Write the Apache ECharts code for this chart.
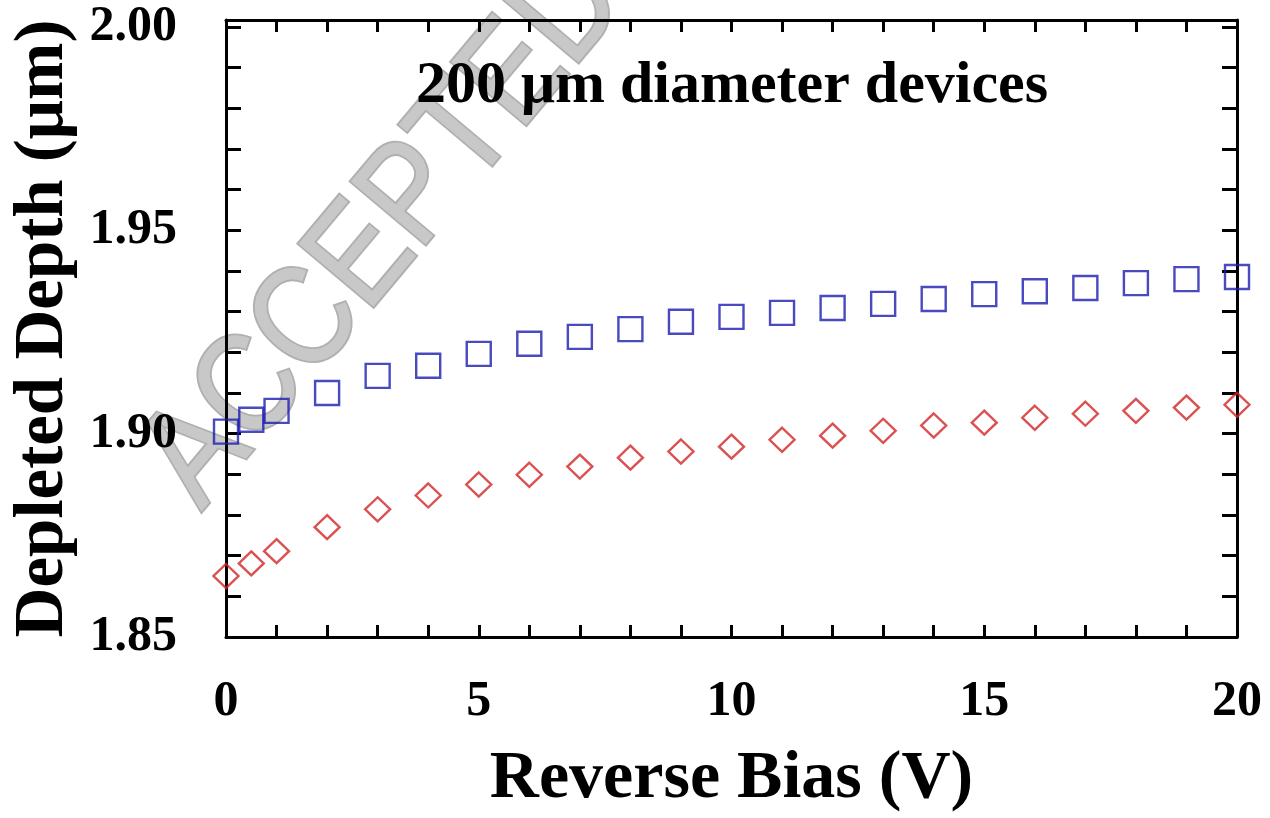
<!DOCTYPE html>
<html>
<head>
<meta charset="utf-8">
<script src="https://cdn.jsdelivr.net/npm/echarts@6/dist/echarts.min.js"></script>
<style>
  html, body { margin: 0; padding: 0; background: #fff; }
  #chart { width: 1270px; height: 818px; }
</style>
</head>
<body>
<div id="chart"></div>
<script>
// reverse bias (V)
var bias = [0, 0.5, 1, 2, 3, 4, 5, 6, 7, 8, 9, 10, 11, 12, 13, 14, 15, 16, 17, 18, 19, 20];
// depleted depth (um), blue squares
var depthBlue = [1.9005, 1.9034, 1.9056, 1.9100, 1.9142, 1.9167, 1.9196, 1.9221, 1.9238, 1.9257, 1.9275,
                 1.9287, 1.9297, 1.9309, 1.9319, 1.9331, 1.9343, 1.9350, 1.9358, 1.9370, 1.9380, 1.9385];
// depleted depth (um), red diamonds
var depthRed = [1.8650, 1.8681, 1.8711, 1.8770, 1.8814, 1.8848, 1.8875, 1.8899, 1.8919, 1.8941, 1.8956,
                1.8968, 1.8985, 1.8995, 1.9007, 1.9020, 1.9027, 1.9039, 1.9049, 1.9056, 1.9064, 1.9071];
var yLabels = [1.85, 1.90, 1.95, 2.00];

var yTicks = [];
for (var i = 0; i <= 15; i++) yTicks.push(+(1.85 + i * 0.01).toFixed(2));

var font = 'Liberation Serif';

function pairs(xs, ys) {
    var out = [];
    for (var i = 0; i < xs.length; i++) out.push([xs[i], ys[i]]);
    return out;
}

var lineSt = { color: '#000', width: 3 };

function yAxisCfg(pos, showLabel) {
    return {
        type: 'value',
        position: pos,
        min: 1.85,
        max: 2.0017,
        splitLine: { show: false },
        axisLine: { show: true, onZero: false, lineStyle: lineSt },
        axisTick: { show: true, inside: true, length: 15, lineStyle: lineSt, customValues: yTicks },
        axisLabel: {
            show: showLabel,
            customValues: yLabels,
            margin: 49,
            fontFamily: font, fontWeight: 'bold', fontSize: 50, color: '#000',
            formatter: function (v) { return v.toFixed(2); }
        }
    };
}

function xAxisCfg(pos, showLabel) {
    return {
        type: 'value',
        position: pos,
        min: 0,
        max: 20,
        interval: 5,
        splitLine: { show: false },
        axisLine: { show: true, onZero: false, lineStyle: lineSt },
        axisTick: { show: true, inside: true, length: 12, lineStyle: lineSt },
        minorTick: { show: true, splitNumber: 5, length: 12, lineStyle: lineSt },
        axisLabel: {
            show: showLabel,
            margin: 40,
            fontFamily: font, fontWeight: 'bold', fontSize: 50, color: '#000'
        }
    };
}

var chart = echarts.init(document.getElementById('chart'));

var bottomX = xAxisCfg('bottom', true);
bottomX.name = 'Reverse Bias (V)';
bottomX.nameLocation = 'middle';
bottomX.nameGap = 108;
bottomX.nameTextStyle = { fontFamily: font, fontWeight: 'bold', fontSize: 68, color: '#000' };

var leftY = yAxisCfg('left', true);
leftY.name = 'Depleted Depth (\u03bcm)';
leftY.nameLocation = 'middle';
leftY.nameGap = 144;
leftY.nameTextStyle = { fontFamily: font, fontWeight: 'bold', fontSize: 69, color: '#000' };

chart.setOption({
    animation: false,
    backgroundColor: '#fff',
    grid: { left: 226, right: 33, top: 20, bottom: 179, containLabel: false },
    xAxis: [bottomX, xAxisCfg('top', false)],
    yAxis: [leftY, yAxisCfg('right', false)],
    graphic: [
        {
            // watermark
            type: 'text',
            x: 385, y: 232,
            rotation: 50 * Math.PI / 180,
            scaleX: 0.86,
            z: -10,
            silent: true,
            style: {
                text: 'ACCEPTED',
                x: 0, y: 0,
                align: 'center', verticalAlign: 'middle',
                font: 'normal 142px "Liberation Sans"',
                fill: '#c8c8c8',
                stroke: '#b0b0b0',
                lineWidth: 4
            }
        },
        {
            type: 'text',
            x: 732, y: 86,
            z: 10,
            style: {
                text: '200 \u03bcm diameter devices',
                align: 'center', verticalAlign: 'middle',
                font: 'bold 60px "Liberation Serif"',
                fill: '#000'
            }
        }
    ],
    series: [
        {
            name: 'blue',
            type: 'scatter',
            symbol: 'rect',
            symbolSize: 24,
            data: pairs(bias, depthBlue),
            itemStyle: { color: 'rgba(0,0,0,0)', borderColor: '#1c1cb0', borderWidth: 2.4 },
            emphasis: { disabled: true }
        },
        {
            name: 'red',
            type: 'scatter',
            symbol: 'diamond',
            symbolSize: [25, 24],
            data: pairs(bias, depthRed),
            itemStyle: { color: 'rgba(0,0,0,0)', borderColor: '#d22424', borderWidth: 2.4 },
            emphasis: { disabled: true }
        }
    ]
});
</script>
</body>
</html>
